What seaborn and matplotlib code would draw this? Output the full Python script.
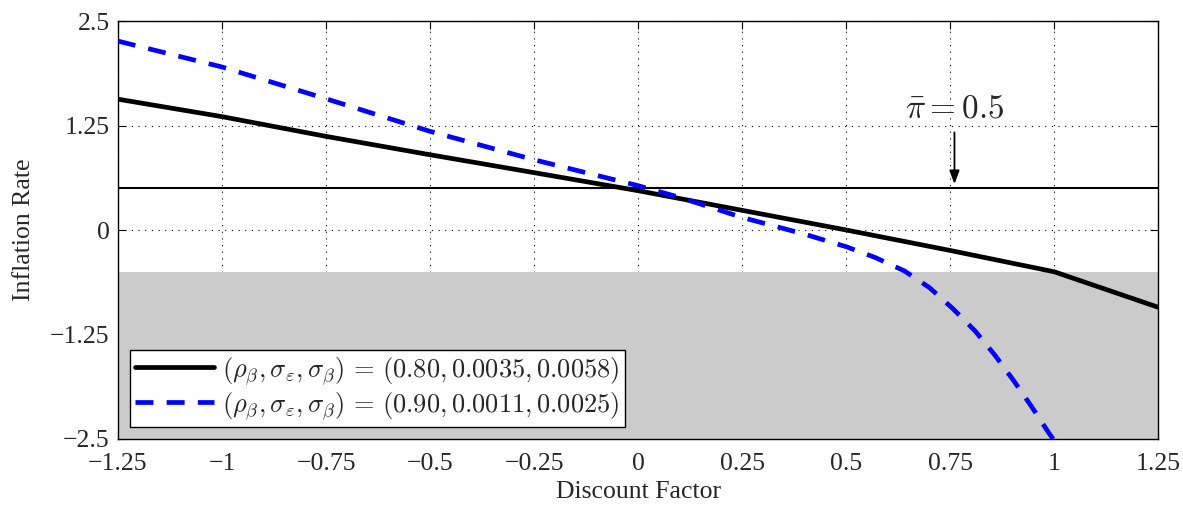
import numpy as np
import pandas as pd
import matplotlib
matplotlib.use("Agg")
import matplotlib.pyplot as plt
import seaborn as sns

# ---------------------------------
# Data
# ---------------------------------

x_black = [-1.25, -1.0, -0.75, -0.5, -0.25, 0.0, 0.25, 0.5, 0.75, 1.0, 1.25]
y_black = [1.565, 1.356, 1.12, 0.90, 0.686, 0.47, 0.235, 0.0, -0.245, -0.5, -0.925]

x_blue = [-1.25, -1.0, -0.75, -0.5, -0.25, 0.0, 0.1, 0.25, 0.4, 0.5,
          0.57, 0.64, 0.7, 0.756, 0.81, 0.856, 0.902, 0.945, 0.987, 1.0]
y_blue = [2.26, 1.95, 1.57, 1.18, 0.84, 0.53, 0.39, 0.15, -0.05, -0.2,
          -0.33, -0.49, -0.69, -0.94, -1.21, -1.49, -1.8, -2.11, -2.43, -2.52]

label_black = r"$(\rho_\beta, \sigma_\varepsilon, \sigma_\beta)\,=\,(0.80, 0.0035, 0.0058)$"
label_blue = r"$(\rho_\beta, \sigma_\varepsilon, \sigma_\beta)\,=\,(0.90, 0.0011, 0.0025)$"

pi_bar = 0.5
lower_bound = -0.5

x_ticks = [-1.25, -1, -0.75, -0.5, -0.25, 0, 0.25, 0.5, 0.75, 1, 1.25]
x_tick_labels = ["\u22121.25", "\u22121", "\u22120.75", "\u22120.5", "\u22120.25",
                 "0", "0.25", "0.5", "0.75", "1", "1.25"]
y_ticks = [-2.5, -1.25, 0, 1.25, 2.5]
y_tick_labels = ["\u22122.5", "\u22121.25", "0", "1.25", "2.5"]

# ---------------------------------
# Style
# ---------------------------------

sns.set_style("ticks")
plt.rcParams["font.family"] = ["Liberation Serif", "DejaVu Serif"]
plt.rcParams["mathtext.fontset"] = "cm"
plt.rcParams["xtick.direction"] = "in"
plt.rcParams["ytick.direction"] = "in"

df_black = pd.DataFrame({"x": x_black, "y": y_black})
df_blue = pd.DataFrame({"x": x_blue, "y": y_blue})

fig = plt.figure(figsize=(11.83, 5.05), dpi=100)
ax = fig.add_axes([0.0997, 0.1307, 0.8795, 0.8277])

# shaded region and target line
ax.axhspan(-2.5, lower_bound, color="#cbcbcb", zorder=1, lw=0)
ax.axhline(pi_bar, color="black", lw=1.5, zorder=2)

sns.lineplot(data=df_black, x="x", y="y", ax=ax, color="black",
             lw=3.4, label=label_black, zorder=3)
sns.lineplot(data=df_blue, x="x", y="y", ax=ax, color="#0000ff",
             lw=3.4, linestyle=(0, (3.8, 2.8)), label=label_blue, zorder=3)

ax.set_xlim(-1.25, 1.25)
ax.set_ylim(-2.5, 2.5)
ax.set_xticks(x_ticks)
ax.set_xticklabels(x_tick_labels)
ax.set_yticks(y_ticks)
ax.set_yticklabels(y_tick_labels)
ax.tick_params(axis="both", which="both", top=True, right=True,
               length=6, width=0.8, labelsize=18.5, color="black")
ax.tick_params(axis="x", pad=10)
ax.tick_params(axis="y", pad=6)

ax.grid(True, color="black", linestyle=(0, (1, 5)), lw=0.8, zorder=1.5)

for spine in ax.spines.values():
    spine.set_color("black")
    spine.set_linewidth(1.0)

ax.set_xlabel("Discount Factor", fontsize=18.5)
ax.set_ylabel("Inflation Rate", fontsize=18.5)
ax.xaxis.set_label_coords(0.5, -0.1)
ax.yaxis.set_label_coords(-0.08, 0.5)

ax.annotate(r"$\bar{\pi} = 0.5$",
            xy=(0.76, pi_bar + 0.05), xytext=(0.76, 1.44),
            ha="center", va="center", fontsize=24,
            arrowprops=dict(arrowstyle="-|>,head_length=0.8,head_width=0.3",
                            mutation_scale=10, color="black", lw=1.3,
                            shrinkA=3, shrinkB=0))

leg = ax.legend(loc="lower left", fontsize=19, frameon=True, fancybox=False,
                framealpha=1, edgecolor="black", handlelength=3.0,
                borderpad=0.2, labelspacing=0.12, handletextpad=0.3,
                borderaxespad=0.45)
leg.get_frame().set_linewidth(1.0)

fig.savefig("out.png", dpi=100)
